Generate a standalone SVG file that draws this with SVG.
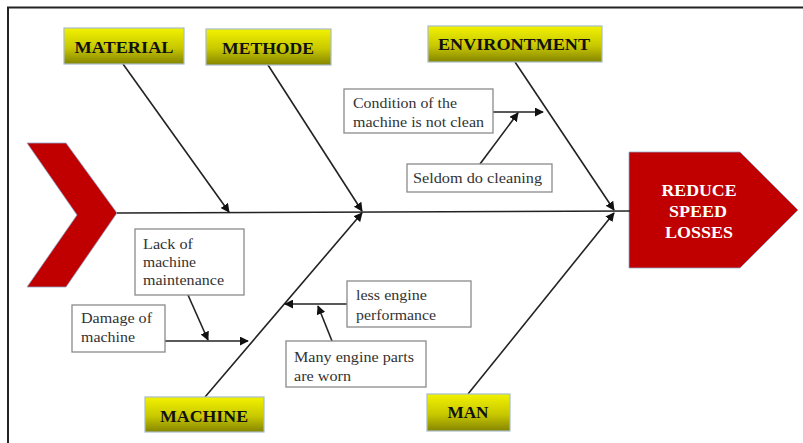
<svg xmlns="http://www.w3.org/2000/svg" width="803" height="443" viewBox="0 0 803 443">
  <defs>
    <linearGradient id="cat" x1="0" y1="0" x2="0" y2="1">
      <stop offset="0" stop-color="#f2f200"/>
      <stop offset="0.55" stop-color="#c8c800"/>
      <stop offset="1" stop-color="#858500"/>
    </linearGradient>
    <marker id="ah" viewBox="0 0 10 10" refX="9" refY="5" markerWidth="9" markerHeight="9" markerUnits="userSpaceOnUse" orient="auto">
      <path d="M0,0 L10,5 L0,10 z" fill="#111"/>
    </marker>
  </defs>
  <style>
    .cat rect { fill: url(#cat); stroke: #a8bcc8; stroke-width: 1.2; }
    .cat text { font-family: "Liberation Serif", serif; font-weight: bold; font-size: 16px; fill: #111; text-anchor: middle; }
    .cause rect { fill: #fff; stroke: #8a8a8a; stroke-width: 1.3; }
    .cause text { font-family: "Liberation Serif", serif; font-size: 14.5px; fill: #333; }
    .bone { stroke: #222; stroke-width: 1.6; fill: none; }
    .arr { marker-end: url(#ah); }
  </style>

  <rect width="803" height="443" fill="#fff"/>
  <!-- page frame -->
  <path d="M8,443 V7.5 H803" fill="none" stroke="#222" stroke-width="2"/>

  <!-- tail chevron -->
  <g id="tail">
    <polygon points="27,143 66,143 117,213 66,287 27,287 77,215" fill="#c00000" stroke="#8fa6c8" stroke-width="0.8"/>
  </g>

  <!-- head -->
  <g id="head">
    <polygon points="629,152 740,152 798,210 740,268 629,268" fill="#c00000" stroke="#8fa6c8" stroke-width="0.8"/>
    <g font-family="Liberation Serif, serif" font-weight="bold" font-size="16" fill="#fff" text-anchor="middle">
      <text x="699" y="196" textLength="75" lengthAdjust="spacingAndGlyphs">REDUCE</text>
      <text x="698" y="217" textLength="58" lengthAdjust="spacingAndGlyphs">SPEED</text>
      <text x="699" y="238" textLength="68" lengthAdjust="spacingAndGlyphs">LOSSES</text>
    </g>
  </g>

  <!-- connectors -->
  <g id="connectors">
    <line class="bone" x1="117" y1="213" x2="630" y2="211"/>
    <line class="bone arr" x1="123" y1="64" x2="229" y2="212"/>
    <line class="bone arr" x1="268" y1="65" x2="362" y2="211"/>
    <line class="bone arr" x1="515" y1="62" x2="614" y2="210"/>
    <line class="bone arr" x1="205" y1="397" x2="362" y2="213"/>
    <line class="bone arr" x1="468" y1="394" x2="614" y2="213"/>
    <line class="bone arr" x1="493" y1="112" x2="543" y2="112"/>
    <line class="bone arr" x1="480" y1="164" x2="518" y2="113"/>
    <line class="bone arr" x1="188" y1="295" x2="208" y2="340"/>
    <line class="bone arr" x1="165" y1="341" x2="248" y2="341"/>
    <line class="bone arr" x1="347" y1="304" x2="285" y2="304"/>
    <line class="bone arr" x1="332" y1="341" x2="318" y2="306"/>
  </g>

  <!-- categories -->
  <g id="material" class="cat">
    <rect x="64" y="28" width="120" height="36"/>
    <text x="124" y="53" textLength="99" lengthAdjust="spacingAndGlyphs">MATERIAL</text>
  </g>
  <g id="methode" class="cat">
    <rect x="206" y="29" width="125" height="36"/>
    <text x="268" y="54" textLength="92" lengthAdjust="spacingAndGlyphs">METHODE</text>
  </g>
  <g id="environtment" class="cat">
    <rect x="428" y="26" width="174" height="36"/>
    <text x="514" y="50" textLength="152" lengthAdjust="spacingAndGlyphs">ENVIRONTMENT</text>
  </g>
  <g id="machine" class="cat">
    <rect x="145" y="397" width="119" height="35"/>
    <text x="204" y="422" textLength="88" lengthAdjust="spacingAndGlyphs">MACHINE</text>
  </g>
  <g id="man" class="cat">
    <rect x="427" y="394" width="83" height="37"/>
    <text x="468" y="418" textLength="41" lengthAdjust="spacingAndGlyphs">MAN</text>
  </g>

  <!-- causes -->
  <g id="not-clean" class="cause">
    <rect x="344" y="89" width="149" height="44"/>
    <text x="353" y="108" textLength="104" lengthAdjust="spacingAndGlyphs">Condition of the</text>
    <text x="353" y="127" textLength="131" lengthAdjust="spacingAndGlyphs">machine is not clean</text>
  </g>
  <g id="seldom-cleaning" class="cause">
    <rect x="407" y="164" width="145" height="28"/>
    <text x="413" y="183" textLength="129" lengthAdjust="spacingAndGlyphs">Seldom do cleaning</text>
  </g>
  <g id="lack-maintenance" class="cause">
    <rect x="135" y="229" width="109" height="66"/>
    <text x="143" y="249" textLength="50" lengthAdjust="spacingAndGlyphs">Lack of</text>
    <text x="143" y="267" textLength="53" lengthAdjust="spacingAndGlyphs">machine</text>
    <text x="143" y="285" textLength="81" lengthAdjust="spacingAndGlyphs">maintenance</text>
  </g>
  <g id="damage" class="cause">
    <rect x="72" y="305" width="93" height="47"/>
    <text x="81" y="323" textLength="71" lengthAdjust="spacingAndGlyphs">Damage of</text>
    <text x="81" y="342" textLength="54" lengthAdjust="spacingAndGlyphs">machine</text>
  </g>
  <g id="engine-performance" class="cause">
    <rect x="347" y="281" width="124" height="46"/>
    <text x="356" y="300" textLength="71" lengthAdjust="spacingAndGlyphs">less engine</text>
    <text x="356" y="320" textLength="80" lengthAdjust="spacingAndGlyphs">performance</text>
  </g>
  <g id="parts-worn" class="cause">
    <rect x="286" y="341" width="140" height="46"/>
    <text x="294" y="362" textLength="120" lengthAdjust="spacingAndGlyphs">Many engine parts</text>
    <text x="294" y="381" textLength="57" lengthAdjust="spacingAndGlyphs">are worn</text>
  </g>
</svg>
